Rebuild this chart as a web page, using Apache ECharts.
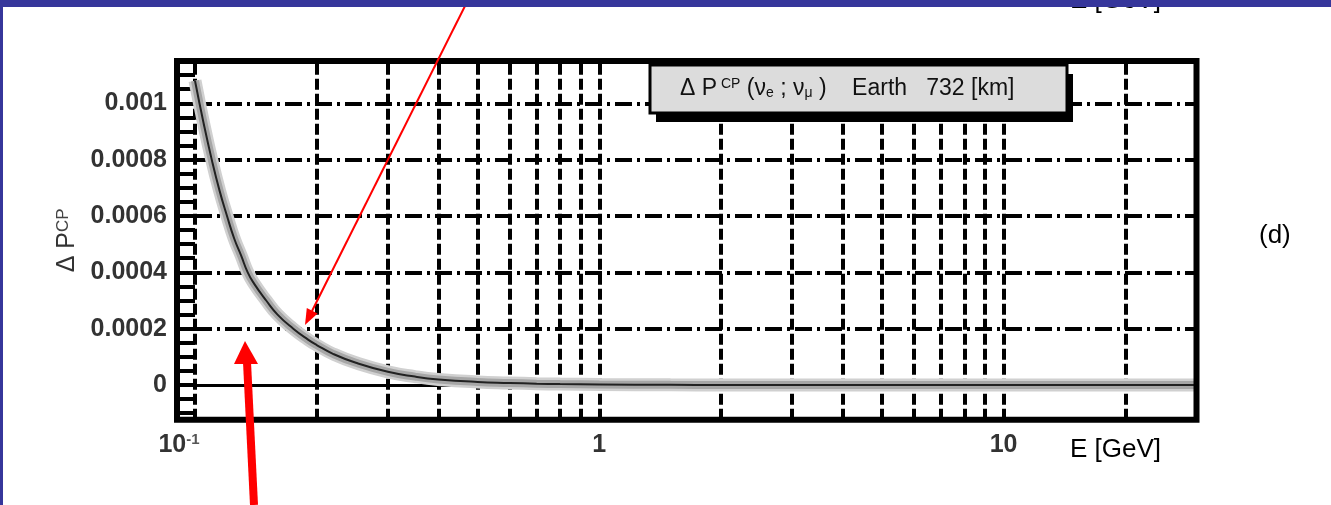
<!DOCTYPE html>
<html><head><meta charset="utf-8">
<script src="https://cdn.jsdelivr.net/npm/echarts@6/dist/echarts.min.js"></script>
<style>html,body{margin:0;padding:0;background:#fff;}#c{width:1331px;height:505px;}</style>
</head><body><div id="c"></div>
<script>
// ---- data ----
const energies = [0.1, 0.105, 0.11, 0.115, 0.12, 0.125, 0.13, 0.135, 0.14, 0.15, 0.16, 0.175, 0.19, 0.2, 0.22, 0.25, 0.3, 0.35, 0.4, 0.5, 0.6, 0.7, 0.8, 1, 1.5, 2, 3, 5, 10, 20, 30];
const deltaP = [0.00108, 0.00093, 0.00080, 0.00069, 0.00060, 0.00052, 0.00046, 0.00040, 0.00036, 0.00030, 0.00025, 0.00020, 0.000162, 0.000142, 0.000110, 0.000079, 0.000047, 0.000030, 0.000020, 0.000011, 0.0000075, 0.0000050, 0.0000035, 0.0000020, 0.0000008, 0.0000004, 0.0000002, 0.0000001, 0, 0, 0];
const xGridValues = [0.1, 0.2, 0.3, 0.4, 0.5, 0.6, 0.7, 0.8, 0.9, 1, 2, 3, 4, 5, 6, 7, 8, 9, 10, 20];
const yGridValues = [0.0002, 0.0004, 0.0006, 0.0008, 0.001];
const xRange = [0.1, 30];
const yRange = [-0.000123, 0.00115];
const xTickValues = [0.1, 1, 10];
const xTickLabels = ['{b|10}{s|-1}{pad| }', '1', '10'];
const yAxisTitle = '{a|Δ P}{s|CP}';
const xAxisTitle = 'E [GeV]';
const panelLabel = '(d)';
const legendText = '{m|Δ P}{sup| CP}{m| (ν}{sub|e}{m| ; ν}{sub|μ}{m| )    Earth   732 [km]}';

const FONT = "'Liberation Sans', Arial, sans-serif";
const curve = energies.map((e, i) => [e, deltaP[i]]);

const hLine = (v, style) => [{coord: [xRange[0], v], lineStyle: style}, {coord: [xRange[1], v]}];
const gridLines = xGridValues.map(v => ({xAxis: v, lineStyle: {color: '#000', width: 4, type: [11, 4]}}))
  .concat(yGridValues.map(v => hLine(v, {color: '#000', width: 4, type: [17, 5, 3, 5]})))
  .concat([hLine(0, {color: '#000', width: 3, type: 'solid'})]);

const chart = echarts.init(document.getElementById('c'), null, {renderer: 'canvas'});
chart.setOption({
  animation: false,
  backgroundColor: '#ffffff',
  grid: {left: 195, right: 134.5, top: 61, bottom: 85.3, containLabel: false},
  xAxis: {
    type: 'log', logBase: 10, min: xRange[0], max: xRange[1],
    axisLine: {show: false}, axisTick: {show: false},
    splitLine: {show: false}, minorTick: {show: false}, minorSplitLine: {show: false},
    axisLabel: {
      margin: 13, showMaxLabel: false, showMinLabel: true,
      fontFamily: FONT, fontSize: 25, fontWeight: 'bold', color: '#333',
      formatter: function (v) {
        for (let i = 0; i < xTickValues.length; i++) {
          if (Math.abs(Math.log10(v) - Math.log10(xTickValues[i])) < 1e-6) return xTickLabels[i];
        }
        return '';
      },
      rich: {
        b: {fontFamily: FONT, fontSize: 25, fontWeight: 'bold', color: '#333'},
        s: {fontFamily: FONT, fontSize: 15, fontWeight: 'bold', color: '#555', verticalAlign: 'top'},
        pad: {width: 32, fontSize: 15}
      }
    }
  },
  yAxis: {
    type: 'value', min: yRange[0], max: yRange[1], splitNumber: 6, offset: 18,
    axisLine: {show: false},
    axisTick: {show: true, inside: true, length: 18, lineStyle: {color: '#000', width: 4}},
    minorTick: {show: true, splitNumber: 4, length: 18, lineStyle: {color: '#000', width: 4}},
    splitLine: {show: false},
    axisLabel: {
      showMinLabel: false, showMaxLabel: false, margin: 10,
      fontFamily: FONT, fontSize: 25, fontWeight: 'bold', color: '#333',
      formatter: function (v) { return String(parseFloat(v.toPrecision(6))); }
    },
    name: yAxisTitle, nameLocation: 'middle', nameRotate: 90, nameGap: 92,
    nameTextStyle: {
      rich: {
        a: {fontFamily: FONT, fontSize: 25, color: '#333'},
        s: {fontFamily: FONT, fontSize: 17, color: '#444', verticalAlign: 'top'}
      }
    }
  },
  series: [
    {
      type: 'line', data: [], z: 2, silent: true,
      markLine: {
        silent: true, symbol: ['none', 'none'], label: {show: false},
        emphasis: {disabled: true},
        data: gridLines
      }
    },
    {type: 'line', data: curve, z: 10, symbol: 'none', smooth: true, silent: true,
     lineStyle: {color: '#d0d0d0', width: 13}},
    {type: 'line', data: curve, z: 11, symbol: 'none', smooth: true, silent: true,
     lineStyle: {color: '#a6a6a6', width: 8}},
    {type: 'line', data: curve, z: 12, symbol: 'none', smooth: true, silent: true,
     lineStyle: {color: '#222', width: 2}}
  ],
  graphic: [
    {type: 'text', x: 1070, y: -12, z: 150, silent: true,
     style: {text: xAxisTitle, font: '26px ' + FONT, fill: '#000', verticalAlign: 'top', align: 'left'}},
    {type: 'rect', z: 200, silent: true, shape: {x: 0, y: 0, width: 1331, height: 7}, style: {fill: '#36369b'}},
    {type: 'rect', z: 200, silent: true, shape: {x: 0, y: 0, width: 3, height: 505}, style: {fill: '#36369b'}},
    {type: 'rect', z: 100, silent: true, shape: {x: 177, y: 61, width: 1019.5, height: 358.7},
     style: {fill: 'none', stroke: '#000', lineWidth: 6}},
    {type: 'rect', z: 101, silent: true, shape: {x: 656, y: 74, width: 417, height: 48}, style: {fill: '#000'}},
    {type: 'rect', z: 102, silent: true, shape: {x: 650, y: 65, width: 417, height: 48},
     style: {fill: '#dcdcdc', stroke: '#000', lineWidth: 3}},
    {type: 'text', z: 103, silent: true, x: 680, y: 89,
     style: {
       text: legendText, align: 'left', verticalAlign: 'middle',
       rich: {
         m: {fontFamily: FONT, fontSize: 23, fill: '#111'},
         sup: {fontFamily: FONT, fontSize: 14, fill: '#111', verticalAlign: 'top'},
         sub: {fontFamily: FONT, fontSize: 14, fill: '#111', verticalAlign: 'bottom'}
       }
     }},
    {type: 'text', x: 1070, y: 437, z: 103, silent: true,
     style: {text: xAxisTitle, font: '26px ' + FONT, fill: '#000', verticalAlign: 'top', align: 'left'}},
    {type: 'text', x: 1259, y: 223, z: 103, silent: true,
     style: {text: panelLabel, font: '26px ' + FONT, fill: '#000', verticalAlign: 'top', align: 'left'}},
    {type: 'line', z: 180, silent: true, shape: {x1: 468, y1: 0, x2: 312, y2: 311}, style: {stroke: '#ff0000', lineWidth: 2}},
    {type: 'polygon', z: 180, silent: true, shape: {points: [[305, 325], [317.6, 313.4], [306.8, 308]]}, style: {fill: '#ff0000'}},
    {type: 'line', z: 180, silent: true, shape: {x1: 247, y1: 362, x2: 254, y2: 505}, style: {stroke: '#ff0000', lineWidth: 8}},
    {type: 'polygon', z: 180, silent: true, shape: {points: [[245, 341], [234, 364], [258, 364]]}, style: {fill: '#ff0000'}}
  ]
});
</script>
</body></html>
